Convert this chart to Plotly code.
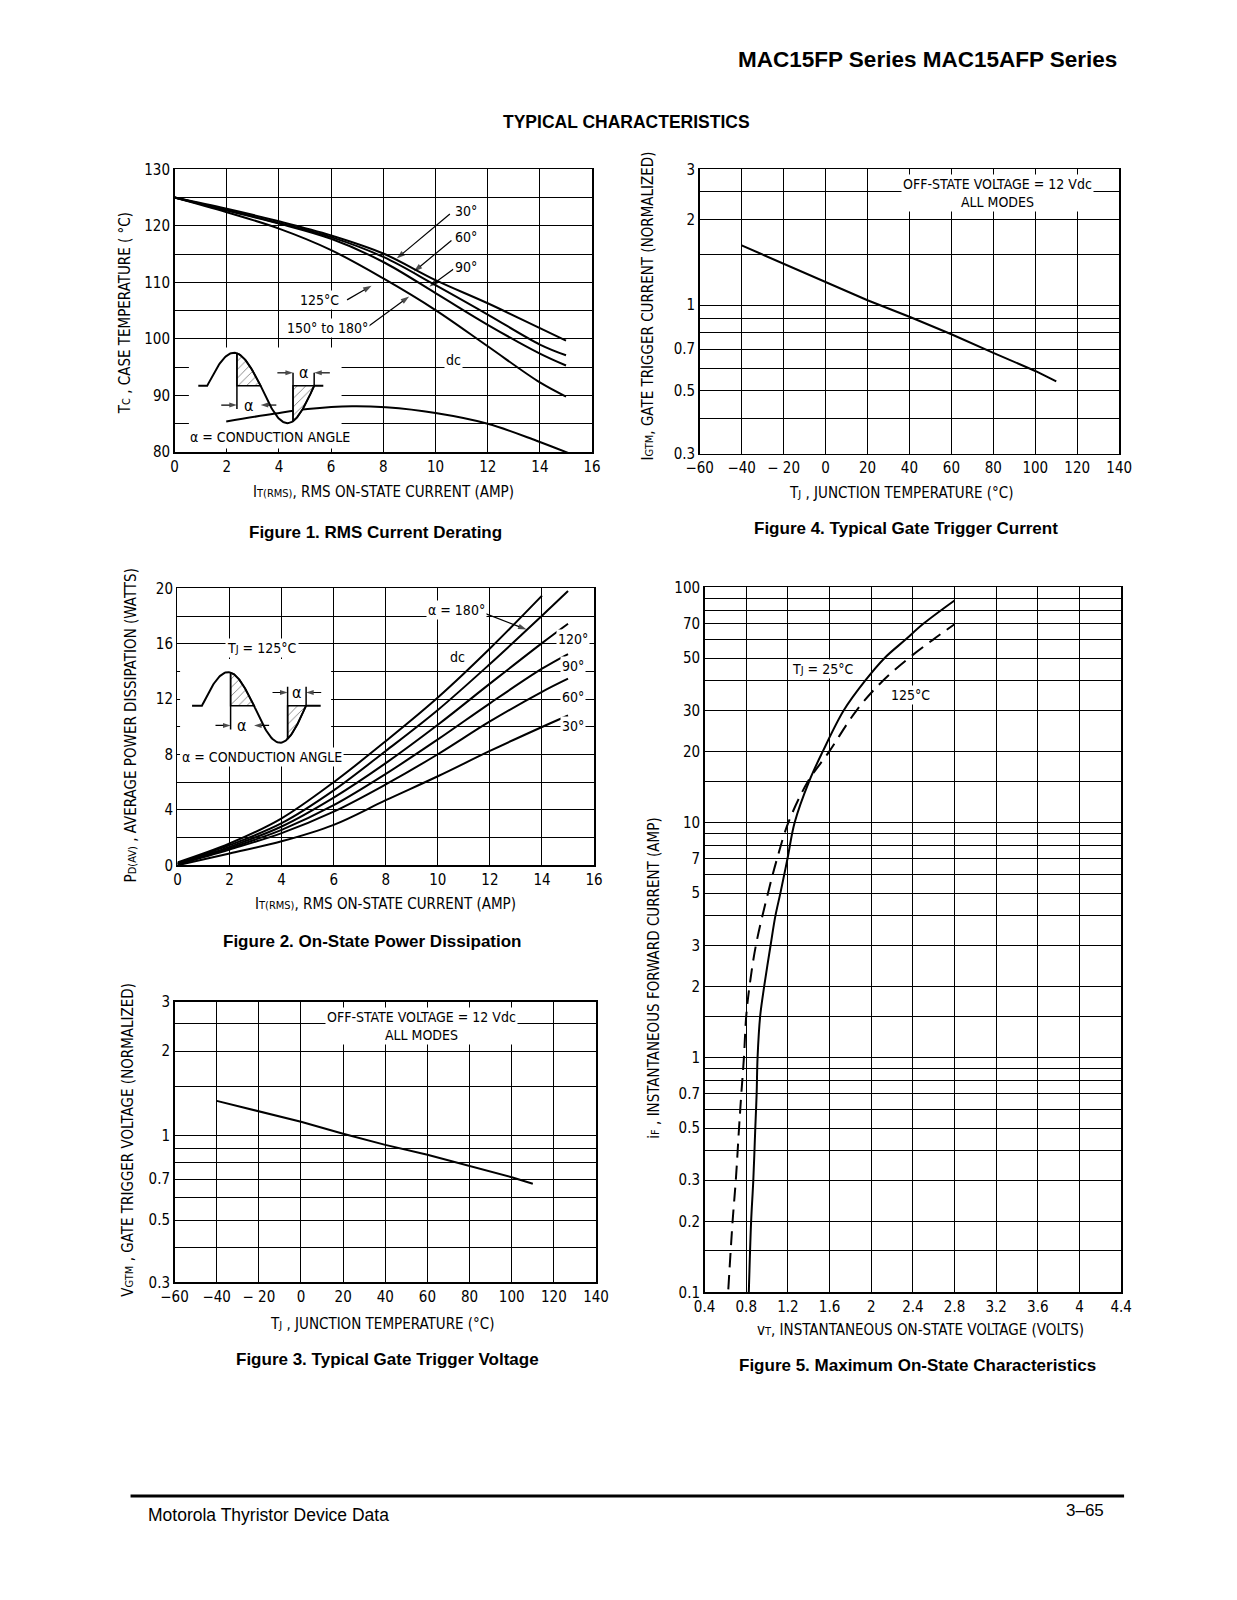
import numpy as np
import plotly.graph_objects as go

# page (reference) size and the figure placed inside the default 8px body margin
PAGE_W, PAGE_H = 1237, 1600
OFF = 8
W, H = PAGE_W - 2 * OFF, PAGE_H - 2 * OFF

# ---------------- data ----------------
# Figure 1 - RMS current derating (Tc vs I_T(RMS))
f1_current = [0, 2, 4, 6, 8, 10, 12, 14, 15]
f1_tc_30 = [125.0, 123.0, 120.8, 118.3, 115.1, 110.4, 106.3, 101.9, 99.7]
f1_tc_60 = [125.0, 122.8, 120.5, 118.0, 114.5, 109.5, 104.3, 99.0, 97.1]
f1_tc_90 = [125.0, 122.7, 120.4, 117.7, 113.6, 108.1, 102.5, 97.4, 95.3]
f1_tc_180 = [125.0, 122.4, 119.5, 115.7, 110.7, 105.1, 98.7, 92.3, 89.8]
f1_dc_current = [1.98, 3.85, 5.1, 6.8, 8.1, 10.0, 12.0, 13.87, 15.1]
f1_tc_dc = [85.4, 86.8, 87.6, 88.1, 87.9, 86.9, 85.0, 82.0, 79.8]

# Figure 2 - on-state power dissipation
f2_current = [0, 2, 4, 6, 8, 10, 12, 14, 15]
f2_dc_current = [0, 2, 4, 6, 8, 10, 12, 14]
f2_p_dc = [0.2, 1.57, 3.39, 6.0, 8.97, 12.12, 15.66, 19.48]
f2_p_180 = [0.15, 1.45, 3.04, 5.41, 8.26, 11.22, 14.54, 18.03, 19.81]
f2_p_120 = [0.1, 1.33, 2.8, 4.89, 7.38, 10.15, 13.12, 16.05, 17.45]
f2_p_90 = [0.1, 1.23, 2.56, 4.34, 6.6, 9.09, 11.7, 14.2, 15.26]
f2_p_60 = [0.05, 1.14, 2.32, 3.87, 5.84, 8.02, 10.39, 12.53, 13.48]
f2_p_30 = [0.0, 0.85, 1.73, 2.92, 4.7, 6.43, 8.26, 9.99, 10.82]

# Figure 3 - gate trigger voltage (normalized)
f3_tj = [-40, 0, 20, 40, 60, 80, 100, 110]
f3_vgt = [1.33, 1.12, 1.016, 0.927, 0.855, 0.782, 0.711, 0.674]

# Figure 4 - gate trigger current (normalized)
f4_tj = [-40, 0, 20, 40, 60, 80, 100, 110]
f4_igt = [1.62, 1.21, 1.04, 0.91, 0.79, 0.68, 0.587, 0.54]

# Figure 5 - maximum on-state characteristics
f5_i_25 = [0.1, 0.2, 0.3, 0.5, 0.7, 1, 1.5, 2, 3, 4, 5, 7, 10, 15, 20, 30, 40, 50, 60, 70, 88]
f5_v_25 = [0.825, 0.847, 0.868, 0.887, 0.9, 0.909, 0.934, 0.972, 1.034, 1.08, 1.128, 1.196,
           1.265, 1.405, 1.534, 1.737, 1.94, 2.127, 2.33, 2.50, 2.80]
f5_i_125 = [0.103, 0.2, 0.3, 0.5, 0.7, 1, 1.5, 2, 3, 5, 7, 10, 15, 20, 30, 40, 50, 60, 69.7]
f5_v_125 = [0.628, 0.669, 0.70, 0.731, 0.753, 0.778, 0.80, 0.831, 0.893, 1.009, 1.096,
            1.205, 1.395, 1.596, 1.86, 2.11, 2.36, 2.595, 2.80]

# ---------------- tick labels / grid values ----------------
f1_xticks = list(range(0, 17, 2))
f1_yticks = list(range(80, 131, 10))
f1_ygrid_minor = list(range(85, 130, 10))
f2_xticks = list(range(0, 17, 2))
f2_yticks = list(range(0, 21, 4))
f2_ygrid_minor = list(range(2, 20, 4))
tj_ticks = list(range(-60, 141, 20))
tj_text = ["\u221260", "\u221240", "\u2212 20", "0", "20", "40", "60", "80", "100", "120", "140"]
norm_ticks = [0.3, 0.5, 0.7, 1, 2, 3]
norm_text = ["0.3", "0.5", "0.7", "1", "2", "3"]
norm_grid_minor = [0.4, 0.6, 0.8, 0.9, 1.5, 2.5]
f5_xticks = [0.4, 0.8, 1.2, 1.6, 2.0, 2.4, 2.8, 3.2, 3.6, 4.0, 4.4]
f5_xtext = ["0.4", "0.8", "1.2", "1.6", "2", "2.4", "2.8", "3.2", "3.6", "4", "4.4"]
f5_yticks = [0.1, 0.2, 0.3, 0.5, 0.7, 1, 2, 3, 5, 7, 10, 20, 30, 50, 70, 100]
f5_ytext = ["0.1", "0.2", "0.3", "0.5", "0.7", "1", "2", "3", "5", "7",
            "10", "20", "30", "50", "70", "100"]
f5_ygrid_minor = [0.15, 0.4, 0.6, 0.8, 0.9, 1.5, 4, 6, 8, 9, 15, 40, 60, 80, 90]

# ---------------- styling ----------------
FONT = "Liberation Sans Narrow, DejaVu Sans Condensed, Arial Narrow, sans-serif"
BFONT = "Liberation Sans, Arial, Helvetica, sans-serif"
TICK = dict(family=FONT, size=15, color="black")
TITLE_SIZE = 15

# plot boxes in page pixels: left, right, top, bottom
BOX1 = (164, 591, 162, 448)
BOX4 = (701, 1130, 162, 450)
BOX2 = (167, 593, 586, 866)
BOX3 = (164, 595, 1004, 1288)
BOX5 = (706, 1132, 585, 1298)


def sub(s, px=11):
    """small lowered-looking index text"""
    return f'<span style="font-size:{px}px">{s}</span>'


def fx(x):
    return (x - OFF) / W


def fy(y):
    return 1 - (y - OFF) / H


def dx(b):
    return [fx(b[0]), fx(b[1])]


def dy(b):
    return [fy(b[3]), fy(b[2])]


AX = dict(showline=True, mirror=True, linecolor="black", linewidth=1.5,
          showgrid=True, gridcolor="black", gridwidth=1, ticks="",
          zeroline=False, tickfont=TICK, fixedrange=True)


def minor(vals):
    return dict(tickmode="array", tickvals=vals, showgrid=True, gridcolor="black",
                gridwidth=1, ticks="")


fig = go.Figure()
ann = []
shapes = []


def curve(x, y, xa, ya, dash="solid", shape="spline", width=2):
    fig.add_trace(go.Scatter(x=x, y=y, xaxis=xa, yaxis=ya, mode="lines",
                             line=dict(color="black", width=width, dash=dash,
                                       shape=shape, smoothing=1.0),
                             hoverinfo="skip", showlegend=False))


def text(xr, yr, x, y, s, size=14, bg="white", family=FONT, **kw):
    d = dict(xref=xr, yref=yr, x=x, y=y, text=s, showarrow=False,
             font=dict(family=family, size=size, color="black"), borderpad=1)
    if bg:
        d["bgcolor"] = bg
    d.update(kw)
    ann.append(d)


def arrow(xr, yr, x0, y0, x1, y1, size=9):
    """Leader line with a filled arrowhead at (x1, y1)."""
    fig.add_trace(go.Scatter(x=[x0, x1], y=[y0, y1], xaxis=xr, yaxis=yr, mode="lines+markers",
                             line=dict(color="black", width=1.2),
                             marker=dict(symbol="arrow", size=[0, size], angleref="previous",
                                         color="black", line=dict(width=0)),
                             hoverinfo="skip", showlegend=False))


def ptext(px, py, s, size=TITLE_SIZE, family=FONT, angle=0, **kw):
    d = dict(xref="paper", yref="paper", x=fx(px), y=fy(py), text=s, showarrow=False,
             font=dict(family=family, size=size, color="black"), textangle=angle,
             xanchor="center", yanchor="middle")
    d.update(kw)
    ann.append(d)


def sine_inset(xr, yr, x0, xz, hp, yb, au, ad, xend, xcut1, xcut2, ytop2, ydim1, ydim2, dlen, yvlow):
    """Schematic conduction-angle waveform drawn in the chart's data units."""
    xs = np.linspace(xz, xz + 2 * hp, 121)

    def f(x):
        x = np.asarray(x, dtype=float)
        s = np.sin(np.pi * (x - xz) / hp)
        return np.where(x <= xz + hp, yb + au * s, yb + ad * s)

    for a, b in [(xcut1, xz + hp), (xcut2, xz + 2 * hp)]:
        hx = np.linspace(a, b, 40)
        px = list(hx) + [b, a, a]
        py = list(f(hx)) + [yb, yb, float(f(a))]
        fig.add_trace(go.Scatter(x=px, y=py, xaxis=xr, yaxis=yr, mode="lines", fill="toself",
                                 fillcolor="white",
                                 fillpattern=dict(shape="/", size=6, solidity=0.15,
                                                  fgcolor="black", bgcolor="white"),
                                 line=dict(color="black", width=1.5),
                                 hoverinfo="skip", showlegend=False))
    wx = [x0] + list(xs) + [xend]
    wy = [yb] + list(f(xs)) + [yb]
    fig.add_trace(go.Scatter(x=wx, y=wy, xaxis=xr, yaxis=yr, mode="lines",
                             line=dict(color="black", width=2),
                             hoverinfo="skip", showlegend=False))
    for vx, v0, v1 in [(xcut1, float(f(xcut1)), yvlow), (xcut2, ytop2, float(f(xcut2))),
                       (xz + 2 * hp, ytop2, yb)]:
        fig.add_trace(go.Scatter(x=[vx, vx], y=[v0, v1], xaxis=xr, yaxis=yr, mode="lines",
                                 line=dict(color="black", width=1.5),
                                 hoverinfo="skip", showlegend=False))
    e1 = xz + hp
    arrow(xr, yr, xcut1 - dlen, ydim1, xcut1, ydim1, size=8)
    arrow(xr, yr, e1 + dlen, ydim1, e1, ydim1, size=8)
    text(xr, yr, (xcut1 + e1) / 2, ydim1, "\u03b1", size=16, bg=None)
    e2 = xz + 2 * hp
    arrow(xr, yr, xcut2 - dlen, ydim2, xcut2, ydim2, size=8)
    arrow(xr, yr, e2 + dlen, ydim2, e2, ydim2, size=8)
    text(xr, yr, (xcut2 + e2) / 2, ydim2, "\u03b1", size=16, bg=None)


# ================= Figure 1 =================
shapes.append(dict(type="rect", xref="x", yref="y", x0=0.55, x1=6.4, y0=80.6, y1=98.5,
                   fillcolor="white", line=dict(width=0), layer="between"))
for ys in [f1_tc_30, f1_tc_60, f1_tc_90, f1_tc_180]:
    curve(f1_current, ys, "x", "y")
curve(f1_dc_current, f1_tc_dc, "x", "y")
sine_inset("x", "y", x0=0.91, xz=1.25, hp=2.05, yb=91.7, au=5.85, ad=6.6, xend=5.7,
           xcut1=2.39, xcut2=4.54, ytop2=94.0, ydim1=88.3, ydim2=94.0, dlen=0.6, yvlow=87.6)
text("x", "y", 11.18, 122.7, "30\u00b0")
text("x", "y", 11.18, 118.0, "60\u00b0")
text("x", "y", 11.18, 112.75, "90\u00b0")
text("x", "y", 5.54, 106.9, "125\u00b0C")
text("x", "y", 5.86, 101.9, "150\u00b0 to 180\u00b0")
text("x", "y", 10.7, 96.3, "dc")
text("x", "y", 3.67, 82.6, "\u03b1 = CONDUCTION ANGLE")
arrow("x", "y", 10.55, 122.1, 8.51, 114.2)
arrow("x", "y", 10.61, 117.4, 9.17, 111.9)
arrow("x", "y", 10.68, 112.3, 9.76, 109.2)
arrow("x", "y", 6.61, 106.9, 7.55, 109.4)
arrow("x", "y", 7.42, 102.2, 8.99, 107.5)

# ================= Figure 4 =================
curve(f4_tj, f4_igt, "x2", "y2", shape="linear")
text("x2", "y2", 82, np.log10(2.47), "OFF-STATE VOLTAGE = 12 Vdc<br>ALL MODES", size=14)

# ================= Figure 2 =================
shapes.append(dict(type="rect", xref="x3", yref="y3", x0=0.1, x1=5.9, y0=7.3, y1=14.9,
                   fillcolor="white", line=dict(width=0), layer="between"))
curve(f2_dc_current, f2_p_dc, "x3", "y3")
for ys in [f2_p_180, f2_p_120, f2_p_90, f2_p_60, f2_p_30]:
    curve(f2_current, ys, "x3", "y3")
sine_inset("x3", "y3", x0=0.56, xz=0.94, hp=2.0, yb=11.53, au=2.42, ad=2.68, xend=5.5,
           xcut1=2.04, xcut2=4.23, ytop2=12.9, ydim1=10.1, ydim2=12.48, dlen=0.58, yvlow=9.8)
text("x3", "y3", 10.7, 18.46, "\u03b1 = 180\u00b0")
arrow("x3", "y3", 11.78, 18.22, 13.41, 17.03)
text("x3", "y3", 10.76, 15.02, "dc", bg=None)
text("x3", "y3", 15.2, 16.37, "120\u00b0")
text("x3", "y3", 15.2, 14.38, "90\u00b0")
text("x3", "y3", 15.2, 12.17, "60\u00b0")
text("x3", "y3", 15.2, 10.04, "30\u00b0")
text("x3", "y3", 3.25, 15.73, "T" + sub("J") + " = 125\u00b0C")
text("x3", "y3", 3.25, 7.85, "\u03b1 = CONDUCTION ANGLE")

# ================= Figure 3 =================
curve(f3_tj, f3_vgt, "x4", "y4", shape="linear")
text("x4", "y4", 57.3, 0.39, "OFF-STATE VOLTAGE = 12 Vdc<br>ALL MODES", size=14)

# ================= Figure 5 =================
curve(f5_v_25, f5_i_25, "x5", "y5")
curve(f5_v_125, f5_i_125, "x5", "y5", dash="14px,8px")
text("x5", "y5", 1.534, np.log10(44.9), "T" + sub("J") + " = 25\u00b0C")
text("x5", "y5", 2.377, np.log10(35.0), "125\u00b0C")

# ================= axis titles, captions, page text =================
ptext(113, 308, "T" + sub("C") + " , CASE TEMPERATURE ( \u00b0C)", angle=-90)
ptext(378, 488, "I" + sub("T(RMS)") + ", RMS ON-STATE CURRENT (AMP)")
ptext(370, 529, "<b>Figure 1. RMS Current Derating</b>", size=17, family=BFONT)

ptext(648, 300, "I" + sub("GTM") + ", GATE TRIGGER CURRENT (NORMALIZED)", angle=-90)
ptext(907, 489, "T" + sub("J") + " , JUNCTION TEMPERATURE (\u00b0C)")
ptext(912, 525, "<b>Figure 4. Typical Gate Trigger Current</b>", size=17, family=BFONT)

ptext(119, 725, "P" + sub("D(AV)") + " , AVERAGE POWER DISSIPATION (WATTS)", angle=-90)
ptext(380, 905, "I" + sub("T(RMS)") + ", RMS ON-STATE CURRENT (AMP)")
ptext(366, 943, "<b>Figure 2. On-State Power Dissipation</b>", size=17, family=BFONT)

ptext(116, 1144, "V" + sub("GTM") + " , GATE TRIGGER VOLTAGE (NORMALIZED)", angle=-90)
ptext(377, 1330, "T" + sub("J") + " , JUNCTION TEMPERATURE (\u00b0C)")
ptext(382, 1366, "<b>Figure 3. Typical Gate Trigger Voltage</b>", size=17, family=BFONT)

ptext(654, 980, "i" + sub("F") + " , INSTANTANEOUS FORWARD CURRENT (AMP)", angle=-90)
ptext(927, 1336, "v" + sub("T") + ", INSTANTANEOUS ON-STATE VOLTAGE (VOLTS)")
ptext(924, 1372, "<b>Figure 5. Maximum On-State Characteristics</b>", size=17, family=BFONT)

ptext(1130, 51, "<b>MAC15FP Series MAC15AFP Series</b>", size=22.5, family=BFONT, xanchor="right")
ptext(626, 114, "<b>TYPICAL CHARACTERISTICS</b>", size=17.5, family=BFONT)
ptext(135, 1523, "Motorola Thyristor Device Data", size=17.5, family=BFONT, xanchor="left")
ptext(1117, 1519, "3\u201365", size=17, family=BFONT, xanchor="right")
shapes.append(dict(type="line", xref="paper", yref="paper", x0=fx(119), x1=fx(1135),
                   y0=fy(1504), y1=fy(1504), line=dict(color="black", width=3)))

# ================= layout =================
fig.update_layout(
    width=W, height=H, margin=dict(l=0, r=0, t=0, b=0),
    paper_bgcolor="white", plot_bgcolor="white", showlegend=False,
    xaxis=dict(AX, domain=dx(BOX1), range=[0, 16], tickvals=f1_xticks, anchor="y"),
    yaxis=dict(AX, domain=dy(BOX1), range=[80, 130], tickvals=f1_yticks,
               minor=minor(f1_ygrid_minor), anchor="x"),
    xaxis2=dict(AX, domain=dx(BOX4), range=[-60, 140], tickvals=tj_ticks, ticktext=tj_text, anchor="y2"),
    yaxis2=dict(AX, domain=dy(BOX4), type="log", range=[np.log10(0.3), np.log10(3)],
                tickvals=norm_ticks, ticktext=norm_text, minor=minor(norm_grid_minor), anchor="x2"),
    xaxis3=dict(AX, domain=dx(BOX2), range=[0, 16], tickvals=f2_xticks, anchor="y3"),
    yaxis3=dict(AX, domain=dy(BOX2), range=[0, 20], tickvals=f2_yticks,
                minor=minor(f2_ygrid_minor), anchor="x3"),
    xaxis4=dict(AX, domain=dx(BOX3), range=[-60, 140], tickvals=tj_ticks, ticktext=tj_text, anchor="y4"),
    yaxis4=dict(AX, domain=dy(BOX3), type="log", range=[np.log10(0.3), np.log10(3)],
                tickvals=norm_ticks, ticktext=norm_text, minor=minor(norm_grid_minor), anchor="x4"),
    xaxis5=dict(AX, domain=dx(BOX5), range=[0.4, 4.4], tickvals=f5_xticks, ticktext=f5_xtext, anchor="y5"),
    yaxis5=dict(AX, domain=dy(BOX5), type="log", range=[-1, 2],
                tickvals=f5_yticks, ticktext=f5_ytext, minor=minor(f5_ygrid_minor), anchor="x5"),
    annotations=ann, shapes=shapes,
)

fig.write_html("out.html", config={"displayModeBar": False, "staticPlot": True})
